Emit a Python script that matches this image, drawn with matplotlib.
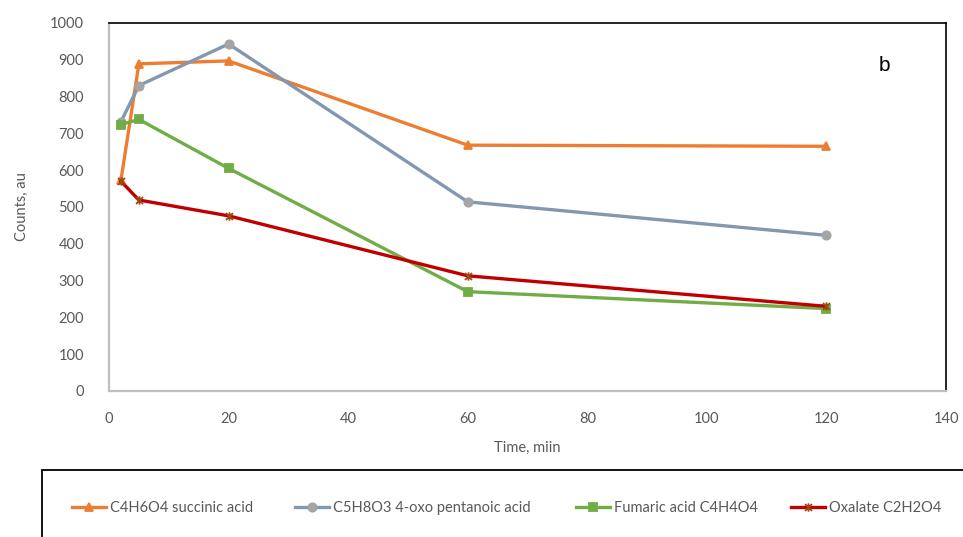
import matplotlib.pyplot as plt
from matplotlib.patches import Rectangle
from matplotlib.path import Path

FONT = "Lato"
TICK_COLOR = "#595959"

time_min = [2, 5, 20, 60, 120]

succinic = [573, 889, 897, 668, 665]
pentanoic = [732, 830, 943, 514, 423]
fumaric = [724, 738, 605, 270, 224]
oxalate = [570, 519, 476, 313, 230]

# Excel-style star: an "x" crossed with a vertical bar
STAR = Path(
    [(-1, -1), (1, 1), (-1, 1), (1, -1), (0, -1.2), (0, 1.2)],
    [Path.MOVETO, Path.LINETO, Path.MOVETO, Path.LINETO, Path.MOVETO, Path.LINETO],
)

SERIES = [
    ("C4H6O4 succinic acid", succinic, "#ED7D31", "^", "#ED7D31"),
    ("C5H8O3 4-oxo pentanoic acid", pentanoic, "#8497B0", "o", "#A5A5A5"),
    ("Fumaric acid C4H4O4", fumaric, "#70AD47", "s", "#70AD47"),
    ("Oxalate C2H2O4", oxalate, "#C00000", STAR, "#9E480E"),
]
# left edge (px) of each legend entry in the bottom panel
LEGEND_X = [72, 295, 576, 791]

W, H = 963, 537
fig = plt.figure(figsize=(W / 100, H / 100), dpi=100)
ax = fig.add_axes([109 / W, (H - 391) / H, (946 - 109) / W, (391 - 23) / H])

lines = []
for label, vals, color, marker, mcolor in SERIES:
    ln, = ax.plot(time_min, vals, color=color, linewidth=2.4, marker=marker,
                  markersize=6, markerfacecolor=mcolor, markeredgecolor=mcolor,
                  markeredgewidth=1.3, label=label, zorder=3)
    lines.append(ln)

ax.set_xlim(0, 140)
ax.set_ylim(0, 1000)
ax.set_xticks(range(0, 141, 20))
ax.set_yticks(range(0, 1001, 100))
ax.tick_params(length=0, labelsize=10.5, labelcolor=TICK_COLOR)
for t in ax.get_xticklabels() + ax.get_yticklabels():
    t.set_fontfamily(FONT)
ax.tick_params(axis="x", pad=15)
ax.tick_params(axis="y", pad=18)

for side in ("top", "right"):
    ax.spines[side].set_color("black")
    ax.spines[side].set_linewidth(1.2)
for side in ("left", "bottom"):
    ax.spines[side].set_color("#BFBFBF")
    ax.spines[side].set_linewidth(1.6)

ax.set_xlabel("Time, miin", fontsize=10.5, color=TICK_COLOR, family=FONT, labelpad=11)
ax.set_ylabel("Counts, au", fontsize=10.5, color=TICK_COLOR, family=FONT, labelpad=15)
ax.text(0.927, 0.885, "b", transform=ax.transAxes, fontsize=15,
        family="Liberation Sans", ha="center", va="center")

# legend panel below the plot
fig.patches.append(Rectangle((42 / W, -0.05), 1.0, (H - 470) / H + 0.05,
                             transform=fig.transFigure, fill=False,
                             edgecolor="black", linewidth=1.3))
for ln, x in zip(lines, LEGEND_X):
    leg = fig.legend([ln], [ln.get_label()], loc="center left",
                     bbox_to_anchor=(x / W, (H - 508) / H), frameon=False,
                     handlelength=2.3, handletextpad=0.3, borderpad=0,
                     borderaxespad=0, prop={"family": FONT, "size": 10.5},
                     labelcolor=TICK_COLOR)

fig.savefig("out.png", dpi=100)
